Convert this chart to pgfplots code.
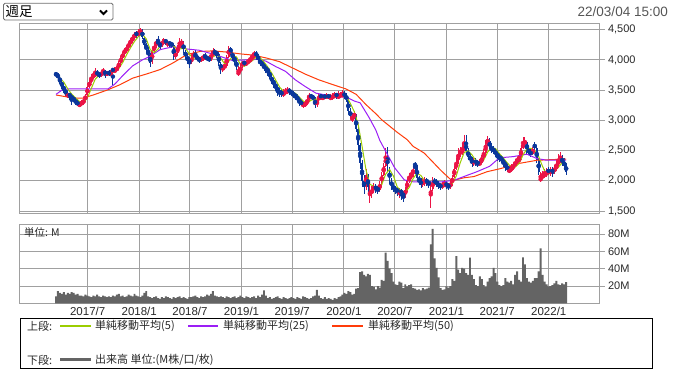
\documentclass[border=0pt]{standalone}
\usepackage{fontspec}
\setmainfont{Liberation Sans}
\newfontfamily\jp{Noto Sans CJK JP}
\usepackage{pgfplots}
\pgfplotsset{compat=1.18}
\usepackage{pgfplotstable}

\definecolor{upc}{RGB}{235,20,70}
\definecolor{dnc}{RGB}{10,55,155}
\definecolor{ma5c}{RGB}{155,205,0}
\definecolor{ma25c}{RGB}{155,30,245}
\definecolor{ma50c}{RGB}{255,60,10}
\definecolor{volc}{RGB}{100,100,100}
\definecolor{gridc}{RGB}{160,160,160}
\definecolor{txtc}{RGB}{40,40,40}
\definecolor{datec}{RGB}{85,85,85}
\definecolor{boxc}{RGB}{110,110,110}

% weekly candles: index, open, high, low, close, volume (M)
\pgfplotstableread{
i o h l c v
0 3780 3800 3720 3750 8
1 3760 3790 3680 3700 14
2 3700 3720 3600 3650 12
3 3640 3660 3520 3560 11
4 3570 3590 3450 3500 13
5 3490 3520 3400 3460 10
6 3400 3470 3370 3430 12
7 3440 3460 3340 3400 11
8 3390 3420 3260 3380 13
9 3370 3400 3300 3340 12
10 3330 3360 3260 3300 10
11 3290 3330 3230 3280 11
12 3250 3300 3220 3260 9
13 3260 3330 3240 3300 9
14 3290 3360 3260 3330 8
15 3330 3440 3310 3420 10
16 3420 3570 3400 3550 9
17 3550 3670 3530 3640 8
18 3640 3760 3620 3700 7
19 3720 3800 3690 3740 9
20 3740 3860 3720 3780 8
21 3800 3830 3720 3760 10
22 3770 3800 3700 3750 8
23 3740 3820 3720 3790 7
24 3790 3870 3760 3800 9
25 3820 3840 3700 3760 8
26 3760 3820 3740 3780 7
27 3790 3830 3740 3770 8
28 3760 3840 3740 3800 7
29 3850 3870 3580 3820 9
30 3800 3880 3780 3840 8
31 3830 3900 3800 3870 10
32 3870 3980 3850 3950 11
33 3950 4060 3930 4030 8
34 4040 4130 4010 4100 9
35 4120 4200 4080 4150 7
36 4150 4240 4110 4200 8
37 4210 4300 4180 4260 10
38 4280 4370 4230 4300 9
39 4310 4420 4280 4370 8
40 4390 4460 4340 4400 11
41 4440 4480 4370 4420 9
42 4410 4510 4380 4450 8
43 4440 4530 4420 4480 7
44 4480 4510 4350 4380 9
45 4370 4400 4200 4250 12
46 4260 4280 4120 4180 14
47 4170 4220 4000 4100 8
48 4080 4120 3880 3950 7
49 3960 4170 3940 4150 6
50 4150 4280 4120 4230 7
51 4230 4350 4200 4300 8
52 4310 4400 4230 4270 6
53 4260 4300 4180 4250 5
54 4240 4340 4210 4300 7
55 4290 4360 4260 4320 6
56 4330 4350 4240 4290 8
57 4260 4320 4220 4280 7
58 4290 4310 4210 4260 6
59 4270 4300 4200 4250 5
60 4240 4260 4000 4050 7
61 4050 4160 4020 4120 6
62 4120 4250 4100 4200 7
63 4200 4370 4170 4260 8
64 4260 4340 4230 4300 6
65 4290 4310 4120 4150 7
66 4140 4170 4020 4060 6
67 4060 4100 3930 4000 5
68 4010 4050 3870 3950 7
69 3950 4080 3930 4040 7
70 4040 4150 4010 4100 8
71 4100 4160 4020 4050 9
72 4060 4080 3980 4020 7
73 4020 4050 3950 4000 6
74 3990 4070 3960 4030 8
75 4020 4090 3990 4040 7
76 4060 4110 4010 4050 8
77 4050 4070 3980 4020 10
78 4030 4060 3960 4000 9
79 4000 4140 3980 4080 11
80 4080 4190 4050 4120 14
81 4130 4180 4080 4110 9
82 4120 4150 4040 4100 8
83 4090 4110 3900 3950 7
84 3940 3970 3770 3850 8
85 3850 3920 3800 3870 7
86 3880 3960 3840 3900 6
87 3900 4080 3880 4050 8
88 4050 4230 4030 4200 7
89 4200 4220 4080 4120 6
90 4110 4130 4000 4050 7
91 4060 4080 3920 3980 8
92 3970 4000 3840 3900 6
93 3760 3900 3730 3800 7
94 3800 3920 3780 3880 9
95 3900 3990 3870 3950 7
96 3960 3990 3900 3940 6
97 3930 3990 3900 3950 8
98 3960 4020 3930 3980 7
99 3990 4060 3960 4000 6
100 4010 4120 3990 4060 7
101 4060 4150 4040 4100 8
102 4110 4140 4030 4080 6
103 4080 4100 3960 4000 9
104 3990 4030 3900 3950 7
105 3960 3990 3870 3920 10
106 3920 3950 3820 3880 15
107 3870 3920 3790 3850 9
108 3860 3880 3740 3800 6
109 3800 3820 3680 3720 7
110 3720 3750 3600 3650 5
111 3660 3700 3540 3600 6
112 3600 3630 3480 3550 7
113 3540 3570 3400 3500 8
114 3490 3530 3380 3450 6
115 3460 3520 3390 3440 5
116 3420 3520 3380 3450 7
117 3450 3540 3420 3480 6
118 3470 3550 3440 3500 5
119 3510 3540 3420 3470 6
120 3480 3510 3400 3450 7
121 3440 3480 3370 3430 6
122 3420 3450 3340 3400 5
123 3400 3430 3300 3350 7
124 3360 3380 3240 3300 6
125 3300 3340 3230 3280 5
126 3250 3310 3200 3260 8
127 3260 3320 3220 3270 7
128 3270 3380 3250 3340 6
129 3350 3460 3320 3400 5
130 3410 3440 3350 3390 6
131 3390 3420 3330 3370 8
132 3360 3380 3200 3250 9
133 3250 3360 3220 3330 15.6
134 3330 3430 3310 3400 9
135 3410 3440 3350 3390 6
136 3360 3420 3330 3380 5
137 3400 3430 3350 3390 7
138 3380 3450 3350 3400 5
139 3410 3430 3350 3390 6
140 3360 3440 3330 3380 5
141 3370 3450 3340 3400 4
142 3390 3470 3370 3420 6
143 3430 3460 3360 3410 5
144 3380 3480 3350 3400 7
145 3400 3470 3370 3420 8
146 3400 3500 3380 3430 10
147 3450 3490 3360 3400 12
148 3410 3450 3300 3350 11
149 3340 3370 3100 3150 14
150 3150 3200 3020 3080 13
151 3000 3120 2970 3050 10
152 3060 3160 3020 3100 11
153 3080 3100 2800 2850 17
154 2850 2900 2500 2600 17.5
155 2600 2620 2200 2300 36
156 2300 2350 1900 2000 37
157 2000 2100 1780 1900 33
158 1900 2200 1850 2100 31
159 2080 2120 1820 1900 34
160 1760 1950 1640 1800 33
161 1800 1920 1720 1850 20
162 1860 1960 1800 1900 19
163 1900 1940 1800 1870 16
164 1880 1920 1780 1850 20
165 1850 2000 1820 1950 18
166 1960 2150 1930 2100 27
167 2100 2300 2080 2250 26
168 2250 2550 2220 2400 58.5
169 2420 2560 2150 2200 49
170 2200 2220 1950 2000 40
171 2010 2050 1850 1900 35
172 1900 1950 1820 1880 25
173 1870 1920 1780 1850 22
174 1850 1900 1750 1830 21
175 1800 1880 1720 1820 25
176 1830 1870 1680 1800 24
177 1790 1820 1650 1750 17.5
178 1760 1900 1720 1850 22
179 1850 2050 1820 2000 19.5
180 2000 2130 1970 2050 21
181 2060 2180 2030 2100 22
182 2100 2250 2060 2180 17.5
183 2280 2310 2150 2250 17
184 2240 2260 2010 2050 15.6
185 2050 2080 1930 2000 16
186 1990 2050 1880 1950 15
187 1950 2040 1900 1980 17.5
188 1970 2060 1920 2000 16
189 2010 2050 1920 1980 17
190 1980 2020 1880 1950 18
191 1760 2000 1550 1850 68
192 1860 2060 1830 2000 86
193 2000 2040 1930 1980 52
194 1990 2030 1900 1950 41
195 1950 1990 1870 1920 30
196 1930 1970 1850 1900 17.5
197 1900 1980 1870 1930 15.6
198 1920 2010 1890 1950 16
199 1960 1990 1860 1920 19.5
200 1930 1970 1840 1900 18
201 1900 2000 1870 1950 20
202 1950 2100 1920 2050 28
203 2060 2250 2040 2200 26
204 2200 2380 2180 2300 54.6
205 2300 2540 2280 2450 39
206 2450 2560 2400 2480 35
207 2470 2620 2420 2500 41
208 2520 2750 2490 2600 40
209 2620 2760 2470 2500 35
210 2500 2540 2350 2400 33
211 2410 2450 2290 2350 52.7
212 2350 2400 2230 2300 33
213 2290 2380 2240 2320 28
214 2330 2370 2250 2300 21
215 2310 2340 2220 2280 20
216 2270 2360 2240 2300 31
217 2300 2430 2280 2380 28
218 2380 2520 2360 2450 21
219 2460 2680 2440 2600 19
220 2600 2740 2580 2650 25
221 2660 2700 2500 2550 29
222 2540 2620 2460 2520 31
223 2520 2580 2440 2500 41
224 2490 2530 2400 2450 35
225 2460 2480 2330 2400 25
226 2400 2440 2310 2380 21
227 2390 2420 2290 2350 20
228 2340 2380 2220 2300 21
229 2300 2330 2170 2250 29
230 2240 2280 2140 2200 25
231 2150 2260 2130 2180 24
232 2180 2280 2150 2200 26
233 2210 2300 2180 2250 22
234 2250 2360 2220 2300 33
235 2310 2400 2280 2330 37
236 2340 2460 2300 2350 27
237 2360 2600 2340 2550 25
238 2550 2730 2520 2600 53
239 2610 2720 2560 2650 45
240 2640 2660 2450 2500 29
241 2510 2560 2420 2480 25
242 2470 2520 2400 2450 24
243 2450 2560 2430 2500 26
244 2600 2650 2500 2550 29
245 2540 2560 2300 2350 29
246 2350 2380 2100 2150 37
247 2000 2150 1980 2050 63.5
248 2060 2160 2030 2080 33
249 2090 2200 2050 2100 25
250 2110 2210 2060 2130 22
251 2180 2230 2090 2150 19.5
252 2140 2220 2080 2160 20
253 2180 2220 2070 2150 21
254 2150 2260 2110 2200 23
255 2200 2330 2170 2250 26
256 2250 2450 2220 2350 22
257 2350 2470 2300 2400 21
258 2390 2420 2250 2300 23
259 2320 2380 2180 2250 22
260 2260 2300 2100 2150 24.5
}\candles

\pgfplotstableread{
i m
0 3750
2 3700
4 3632
6 3520
8 3434
10 3370
12 3312
14 3294
16 3372
18 3528
20 3682
22 3746
24 3776
26 3776
28 3782
30 3802
32 3856
34 3958
36 4086
38 4202
40 4306
42 4388
44 4426
46 4348
48 4172
50 4122
52 4180
54 4270
56 4286
58 4290
60 4226
62 4176
64 4186
66 4194
68 4092
70 4030
72 4032
74 4040
76 4028
78 4028
80 4054
82 4082
84 4026
86 3934
88 3974
90 4064
92 4050
94 3922
96 3894
98 3940
100 3986
102 4044
104 4038
106 3966
108 3880
110 3780
112 3664
114 3550
116 3478
118 3464
120 3470
122 3450
124 3386
126 3318
128 3290
130 3332
132 3350
134 3348
136 3350
138 3392
140 3388
142 3398
144 3402
146 3416
148 3400
150 3282
152 3146
154 2936
156 2570
158 2180
160 1940
162 1910
164 1854
166 1934
168 2110
170 2190
172 2076
174 1892
176 1836
178 1810
180 1890
182 2036
184 2126
186 2086
188 1996
190 1972
192 1956
194 1946
196 1950
198 1930
200 1920
202 1954
204 2080
206 2296
208 2466
210 2496
212 2430
214 2334
216 2300
218 2342
220 2476
222 2554
224 2534
226 2450
228 2376
230 2296
232 2226
234 2226
236 2286
238 2426
240 2530
242 2536
244 2496
246 2400
248 2236
250 2102
252 2124
254 2158
256 2222
258 2300
260 2290
}\maA

\pgfplotstableread{
i m
0 3430
3 3500
6 3520
16 3520
26.5 3520
30 3600
34 3740
39 3900
44 4000
48 4060
53 4170
60 4220
67 4180
73 4160
78.5 4110
83.5 4060
90 3990
97 4000
103 4010
107 3980
112 3890
117 3810
122 3670
127 3560
132.5 3450
137.5 3420
146 3390
149 3370
152 3320
155 3290
159.5 3050
163 2840
165 2670
168.5 2460
172.5 2220
177.5 2015
182.5 1980
196 1980
203 2010
209.5 2090
214.5 2150
221 2240
226 2380
233 2400
240 2440
245 2370
250 2340
260 2340
}\maB

\pgfplotstableread{
i m
0 3420
8.7 3370
13.8 3370
19 3420
26 3500
32.6 3590
39.2 3700
46.4 3770
53 3840
59.6 3950
66.8 4090
73.4 4140
80 4150
87 4130
94 4100
100.4 4080
107.5 4030
114 3970
121 3860
127.4 3760
134 3670
141.2 3590
147.8 3520
153 3430
158 3260
163 3110
166 3010
174 2800
179 2680
182 2570
187.6 2460
190.6 2360
196.2 2170
201.8 2000
208 2050
213 2070
219.7 2150
226.3 2200
236.5 2290
245.2 2340
260 2360
}\maC

\pgfplotsset{
  upsel/.style={restrict expr to domain={\thisrow{c}-\thisrow{o}}{0.5:100000}},
  dnsel/.style={restrict expr to domain={\thisrow{c}-\thisrow{o}}{-100000:-0.5}},
  panel/.style={
    scale only axis, width=579.5pt, anchor=south west,
    xmin=-18.35, xmax=277,
    axis line style={draw=gridc, line width=1pt},
    grid=major, grid style={draw=gridc, line width=1pt},
    xtick={16.14,42.43,68.29,94.57,120.43,146.71,172.71,199.0,224.86,251.14},
    xtick style={draw=none},
    ytick pos=right, yticklabel pos=right,
    tick align=outside, major tick length=5pt,
    ytick style={draw=gridc, line width=1pt},
    tick label style={font=\fontsize{11}{13}\selectfont, text=txtc},
  },
  wick/.style={color=#1, draw=#1, only marks, mark=none,
    error bars/.cd, y dir=both, y explicit, error mark=none,
    error bar style={draw=#1, line width=0.9pt}},
  body/.style={color=#1, draw=#1, only marks, mark=none,
    error bars/.cd, y dir=both, y explicit, error mark=none,
    error bar style={draw=#1, line width=1.8pt}},
}

\begin{document}
\begin{tikzpicture}[x=1pt,y=1pt]
\useasboundingbox (0,0) rectangle (675,375);

% dropdown and date
\draw[draw=boxc, line width=0.9pt, rounded corners=1.5pt] (3.5,355) rectangle (113,371.7);
\node[anchor=west, inner sep=0pt, font=\jp\fontsize{13.5}{15}\selectfont] at (5.5,363.3) {週足};
\draw[black, line width=1.8pt] (100,364.5) -- (103.5,361) -- (107,364.5);
\node[anchor=east, inner sep=0pt, text=datec, font=\fontsize{13.5}{16}\selectfont] at (668,363) {22/03/04 15:00};

% price panel
\begin{axis}[panel, at={(20pt,161.7pt)}, height=189.5pt,
  ymin=1462, ymax=4598,
  ytick={1500,2000,2500,3000,3500,4000,4500},
  yticklabels={{1,500},{2,000},{2,500},{3,000},{3,500},{4,000},{4,500}},
  xticklabels={}]
\addplot[upc, upsel, wick=upc]
  table[x=i, y expr=(\thisrow{h}+\thisrow{l})/2, y error expr=(\thisrow{h}-\thisrow{l})/2] {\candles};
\addplot[dnc, dnsel, wick=dnc]
  table[x=i, y expr=(\thisrow{h}+\thisrow{l})/2, y error expr=(\thisrow{h}-\thisrow{l})/2] {\candles};
\addplot[upc, upsel, body=upc]
  table[x=i, y expr=(\thisrow{o}+\thisrow{c})/2, y error expr=abs(\thisrow{c}-\thisrow{o})/2] {\candles};
\addplot[dnc, dnsel, body=dnc]
  table[x=i, y expr=(\thisrow{o}+\thisrow{c})/2, y error expr=abs(\thisrow{c}-\thisrow{o})/2] {\candles};
\addplot[ma50c, line width=1pt, no markers] table[x=i, y=m] {\maC};
\addplot[ma25c, line width=1pt, no markers] table[x=i, y=m] {\maB};
\addplot[ma5c, line width=1pt, no markers] table[x=i, y=m] {\maA};
\end{axis}

% volume panel
\begin{axis}[panel, at={(20pt,71.7pt)}, height=79.3pt,
  ymin=0, ymax=91.7,
  ytick={20,40,60,80}, yticklabels={20M,40M,60M,80M},
  xticklabels={2017/7,2018/1,2018/7,2019/1,2019/7,2020/1,2020/7,2021/1,2021/7,2022/1},
  xticklabel style={font=\fontsize{11.5}{13}\selectfont, text=txtc, yshift=4.5pt}]
\addplot[ybar, bar width=1, fill=volc, draw=none] table[x=i, y=v] {\candles};
\end{axis}
\node[anchor=west, inner sep=0pt, font=\jp\fontsize{10.5}{12}\selectfont, text=txtc] at (24,142.5) {単位: M};

% legend box
\draw[black, line width=1pt] (20.5,6.5) rectangle (652,56.7);
\begin{scope}[font=\jp\fontsize{11}{13}\selectfont, text=txtc]
\node[anchor=west, inner sep=0pt] at (27,49) {上段:};
\draw[ma5c, line width=1.2pt] (60,49) -- (91,49);
\node[anchor=west, inner sep=0pt] at (95,49) {単純移動平均(5)};
\draw[ma25c, line width=1.2pt] (188,49) -- (218,49);
\node[anchor=west, inner sep=0pt] at (223,49) {単純移動平均(25)};
\draw[ma50c, line width=1.2pt] (332,49) -- (363,49);
\node[anchor=west, inner sep=0pt] at (368,49) {単純移動平均(50)};
\node[anchor=west, inner sep=0pt] at (27,15) {下段:};
\draw[volc, line width=3pt] (60,15) -- (91,15);
\node[anchor=west, inner sep=0pt] at (95,15) {出来高 単位:(M株/口/枚)};
\end{scope}
\end{tikzpicture}
\end{document}
